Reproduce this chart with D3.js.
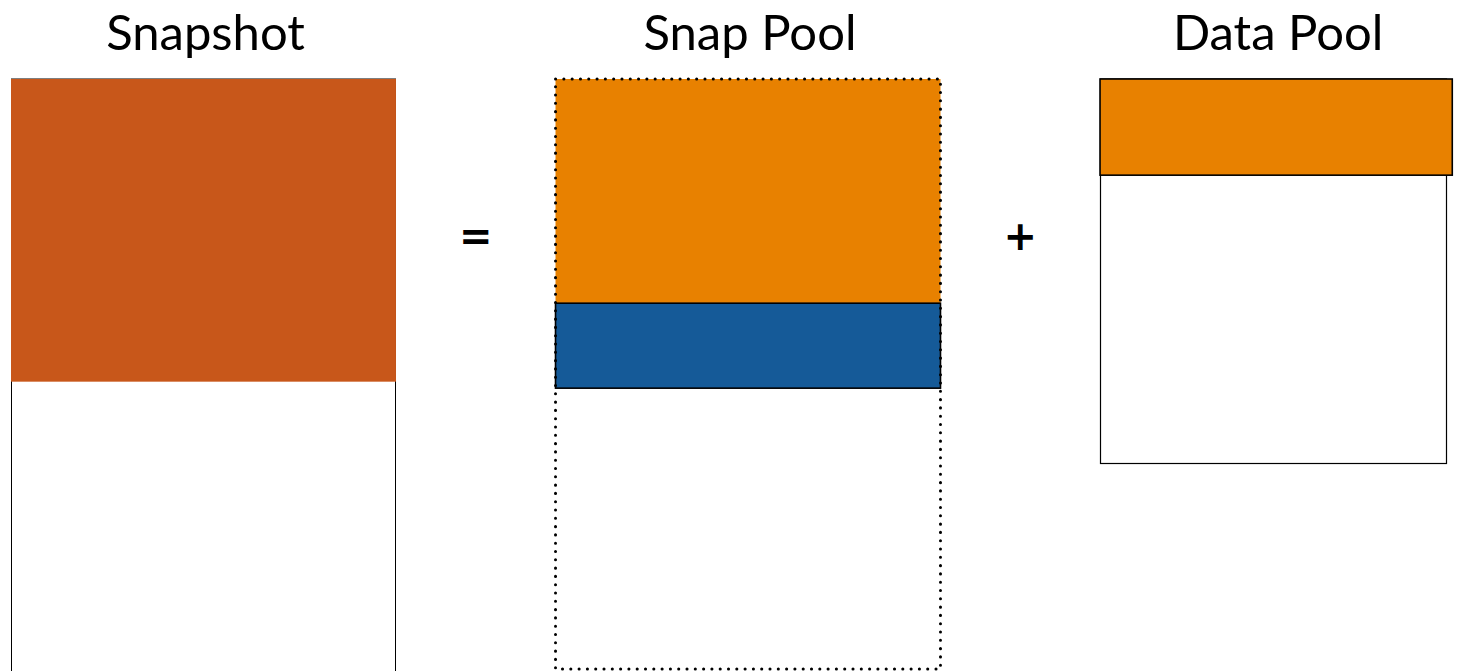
<!DOCTYPE html>
<html>
<head>
<meta charset="utf-8">
<script src="https://cdn.jsdelivr.net/npm/d3@7"></script>
<style>
  body { margin: 0; background: #fff; }
  svg { display: block; }
</style>
</head>
<body>
<script>
// set dimensions
var width = 1457,
    height = 671;

// columns and their data
var columns = ["Snapshot", "Snap Pool", "Data Pool"];
var capacity = [101, 100, 65];        // size of each container (units)
var widthShare = [1, 1, 0.915];       // relative box widths
var snapshotUsed = [51.3];            // snapshot content
var snapPoolFree = [38];              // orange part of snap pool
var snapPoolUsed = [14.4];            // blue part of snap pool
var dataPoolUsed = [16.3];            // orange part of data pool
var operators = ["=", "+"];

var colors = {snapshot: "#c8571a", orange: "#e88100", blue: "#155a98"};

var x = d3.scaleBand().domain(columns).range([11, 1485]).paddingInner(0.293).paddingOuter(0);
var y = d3.scaleLinear().domain([0, 100]).range([79, 669]);

function h(v) { return y(v) - y(0); }
function w(i) { return x.bandwidth() * widthShare[i]; }

var svg = d3.select("body").append("svg")
    .attr("width", width)
    .attr("height", height);

// titles
svg.append("g")
    .selectAll("text")
    .data(columns)
    .enter().append("text")
    .attr("x", function(d, i) { return x(d) + w(i) / 2 + 2; })
    .attr("y", 50)
    .attr("text-anchor", "middle")
    .style("font-family", "Lato, 'Open Sans', sans-serif")
    .style("font-size", "49px")
    .text(function(d) { return d; });

// snapshot box
svg.append("rect")
    .attr("x", Math.round(x(columns[0])) + 0.5)
    .attr("y", y(0))
    .attr("width", Math.round(w(0)) - 1)
    .attr("height", h(capacity[0]))
    .attr("fill", "none")
    .attr("stroke", "#000")
    .attr("stroke-width", 1);

svg.selectAll(".snapfill")
    .data(snapshotUsed)
    .enter().append("rect")
    .attr("class", "snapfill")
    .attr("x", x(columns[0]))
    .attr("y", y(0))
    .attr("width", w(0))
    .attr("height", function(d) { return h(d); })
    .attr("fill", colors.snapshot);

// snap pool
svg.selectAll(".poolfree")
    .data(snapPoolFree)
    .enter().append("rect")
    .attr("x", x(columns[1]))
    .attr("y", y(0))
    .attr("width", w(1))
    .attr("height", function(d) { return h(d); })
    .attr("fill", colors.orange);

svg.selectAll(".poolused")
    .data(snapPoolUsed)
    .enter().append("rect")
    .attr("x", x(columns[1]))
    .attr("y", y(snapPoolFree[0]))
    .attr("width", w(1))
    .attr("height", function(d) { return h(d); })
    .attr("fill", colors.blue)
    .attr("stroke", "#000")
    .attr("stroke-width", 1.6);

svg.append("rect")
    .attr("x", x(columns[1]))
    .attr("y", y(0))
    .attr("width", w(1))
    .attr("height", h(capacity[1]))
    .attr("fill", "none")
    .attr("stroke", "#000")
    .attr("stroke-width", 3)
    .attr("stroke-linecap", "round")
    .attr("stroke-dasharray", "0.1 8.2");

// data pool
svg.append("rect")
    .attr("x", Math.round(x(columns[2])) + 0.5)
    .attr("y", y(0))
    .attr("width", Math.round(w(2)) - 6)
    .attr("height", Math.round(h(capacity[2])) + 0.5)
    .attr("fill", "none")
    .attr("stroke", "#000")
    .attr("stroke-width", 1.2);

svg.selectAll(".dataused")
    .data(dataPoolUsed)
    .enter().append("rect")
    .attr("x", x(columns[2]))
    .attr("y", y(0))
    .attr("width", w(2))
    .attr("height", function(d) { return h(d); })
    .attr("fill", colors.orange)
    .attr("stroke", "#000")
    .attr("stroke-width", 1.6);

// operators between columns
svg.append("g")
    .selectAll("text")
    .data(operators)
    .enter().append("text")
    .attr("x", function(d, i) {
        var right = x(columns[i]) + w(i);
        return (right + x(columns[i + 1])) / 2;
    })
    .attr("y", 250)
    .attr("text-anchor", "middle")
    .style("font-family", "'DejaVu Sans', sans-serif")
    .style("font-weight", "bold")
    .style("font-size", "40px")
    .text(function(d) { return d; });
</script>
</body>
</html>
